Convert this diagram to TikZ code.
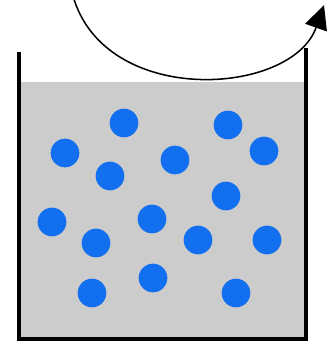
\documentclass[tikz,border=0pt]{standalone}
\usetikzlibrary{arrows.meta}
\definecolor{liquid}{RGB}{204,204,204}
\definecolor{dotblue}{RGB}{18,112,240}
\begin{document}
\begin{tikzpicture}[x=0.03cm,y=-0.03cm, dot/.style={circle,fill=dotblue,inner sep=0pt,minimum size=0.86cm}]
        \useasboundingbox (0,0) rectangle (330,345);
        \fill[liquid] (19,82) rectangle (306,339);
        \draw[line width=2.6pt] (19,52) -- (19,339) -- (306,339) -- (306,48);
        \foreach \x/\y [count=\i] in {124/123, 228/125, 65/153, 264/151, 175/160, 110/176, 226/196, 52/222, 152/219, 96/243, 198/240, 267/240, 153/278, 92/293, 236/293}
            \node[dot] (d\i) at (\x,\y) {};
        \coordinate (start) at (73,-4);
        \coordinate (tip) at (324,5);
        \draw[line width=1.3pt, -{Triangle[length=0.72cm,width=0.68cm]}] (start) .. controls (105,108) and (292,96) .. (tip);
    \end{tikzpicture}
\end{document}
